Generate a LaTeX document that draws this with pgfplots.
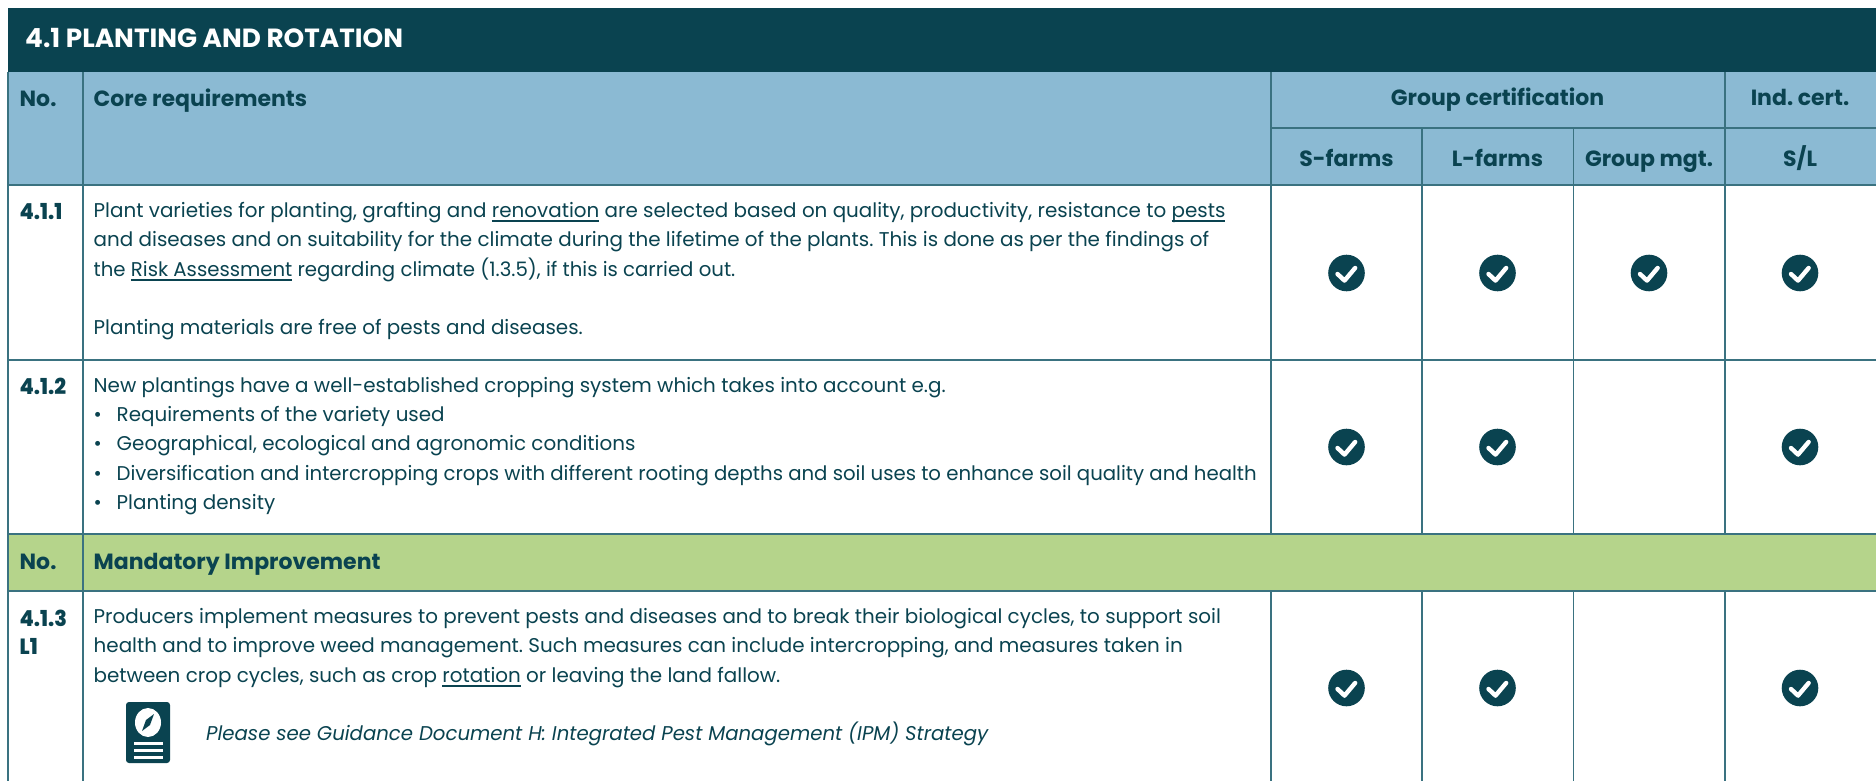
\documentclass[border=0pt]{standalone}
\usepackage{pgfplots}
\pgfplotsset{compat=1.18}
\usepackage{fontspec}
\setmainfont{Poppins}
\IfFontExistsTF{Poppins ExtraBold}{\newfontface\xb{Poppins ExtraBold}}{\newcommand{\xb}{\bfseries}}
\frenchspacing
\definecolor{dark}{HTML}{0A4350}
\definecolor{hblue}{HTML}{8BBAD3}
\definecolor{hgreen}{HTML}{B5D48B}
\definecolor{rule}{HTML}{3A7280}
\newcommand{\ul}[1]{\setbox0\hbox{#1}\rlap{\raisebox{-4.6pt}{\rule{\wd0}{1.2pt}}}\box0 }
\pgfdeclareplotmark{checkdisc}{%
  \pgfsetfillcolor{dark}\pgfpathcircle{\pgfpointorigin}{18.3pt}\pgfusepathqfill
  \pgfsetstrokecolor{white}\pgfsetlinewidth{4.4pt}\pgfsetroundcap\pgfsetroundjoin
  \pgfpathmoveto{\pgfpoint{-9pt}{-1pt}}\pgfpathlineto{\pgfpoint{-2pt}{-7.6pt}}\pgfpathlineto{\pgfpoint{8.6pt}{5pt}}\pgfusepathqstroke
}
\newcommand{\Bd}[3]{\node[anchor=base west,inner sep=0pt,text=dark,font=\fontsize{19.9}{24}\selectfont] at (axis cs:#1,#2) {#3};}
\newcommand{\Bs}[3]{\node[anchor=base west,inner sep=0pt,text=dark,font=\fontsize{19.9}{24}\selectfont] at (axis cs:#1,#2) {\scalebox{.99}[1]{#3}};}
\newcommand{\Hd}[3]{\node[anchor=base west,inner sep=0pt,text=dark,font=\fontsize{22}{24}\bfseries\selectfont] at (axis cs:#1,#2) {#3};}
\newcommand{\Nm}[3]{\node[anchor=base west,inner sep=0pt,text=dark,font=\fontsize{22}{24}\selectfont] at (axis cs:#1,#2) {\scalebox{.94}[1]{\xb #3}};}
\newcommand{\Cn}[3]{\node[anchor=base,inner sep=0pt,text=dark,font=\fontsize{22}{24}\bfseries\selectfont] at (axis cs:#1,#2) {#3};}
\begin{document}
\begin{tikzpicture}
\begin{axis}[scale only axis,width=1876pt,height=781pt,xmin=0,xmax=1876,ymin=0,ymax=781,y dir=reverse,hide axis,clip=true]
% page
\addplot[draw=none,fill=white] coordinates {(0,0)(1876,0)(1876,781)(0,781)} --cycle;
% fills
\addplot[draw=none,fill=dark] coordinates {(8,8)(1876,8)(1876,72)(8,72)} --cycle;
\addplot[draw=none,fill=hblue] coordinates {(8,72)(1876,72)(1876,185)(8,185)} --cycle;
\addplot[draw=none,fill=hgreen] coordinates {(8,534)(1876,534)(1876,591)(8,591)} --cycle;
% rules
\addplot[rule,line width=2pt] coordinates {(8,72)(8,781)};
\addplot[rule,line width=2pt] coordinates {(83,72)(83,781)};
\addplot[rule,line width=2pt] coordinates {(1271,72)(1271,534)};
\addplot[rule,line width=2pt] coordinates {(1271,591)(1271,781)};
\addplot[rule,line width=2pt] coordinates {(1725,72)(1725,534)};
\addplot[rule,line width=2pt] coordinates {(1725,591)(1725,781)};
\addplot[rule,line width=1.8pt] coordinates {(1422,128)(1422,534)};
\addplot[rule,line width=1.8pt] coordinates {(1422,591)(1422,781)};
\addplot[rule,line width=1.8pt] coordinates {(1573.5,128)(1573.5,534)};
\addplot[rule,line width=1.8pt] coordinates {(1573.5,591)(1573.5,781)};
\addplot[rule,line width=2pt] coordinates {(1271,128)(1876,128)};
\addplot[rule,line width=2pt] coordinates {(8,185)(1876,185)};
\addplot[rule,line width=2pt] coordinates {(8,359.5)(1876,359.5)};
\addplot[rule,line width=2pt] coordinates {(8,534)(1876,534)};
\addplot[rule,line width=2pt] coordinates {(8,591)(1876,591)};
% checks
\addplot[only marks,mark=checkdisc,mark size=18pt] coordinates {
(1346.5,273)(1497.5,273)(1649,273)(1800,273)
(1346.5,447)(1497.5,447)(1800,447)
(1346.5,688)(1497.5,688)(1800,688)};
% text
\node[anchor=base west,inner sep=0pt,text=white,font=\fontsize{26.3}{30}\bfseries\selectfont] at (axis cs:25,48) {4.1 PLANTING AND ROTATION};
\Hd{19.5}{106.5}{No.}
\Hd{93.5}{106.5}{Core requirements}
\Cn{1497.5}{106}{Group certification}
\Cn{1800}{106}{Ind. cert.}
\Cn{1346.5}{166}{S-farms}
\Cn{1497.5}{166}{L-farms}
\Cn{1649}{166}{Group mgt.}
\Cn{1800}{166}{S/L}
\Nm{19.5}{219}{4.1.1}
\Nm{19.5}{394}{4.1.2}
\Hd{19.5}{569}{No.}
\Hd{93.5}{569}{Mandatory Improvement}
\Nm{19.5}{626}{4.1.3}
\Nm{19.5}{654}{L1}
\Bd{93.5}{217}{Plant varieties for planting, grafting and \ul{renovation} are selected based on quality, productivity, resistance to \ul{pests}}
\Bd{93.5}{246.5}{and diseases and on suitability for the climate during the lifetime of the plants. This is done as per the findings of}
\Bs{93.5}{276}{the \ul{Risk Assessment} regarding climate (1.3.5), if this is carried out.}
\Bd{93.5}{334.5}{Planting materials are free of pests and diseases.}
\Bd{93.5}{392}{New plantings have a well-established cropping system which takes into account e.g.}
\Bd{93.5}{421}{•}
\Bd{116.5}{421}{Requirements of the variety used}
\Bd{93.5}{450.3}{•}
\Bd{116.5}{450.3}{Geographical, ecological and agronomic conditions}
\Bd{93.5}{480}{•}
\Bs{116.5}{480}{Diversification and intercropping crops with different rooting depths and soil uses to enhance soil quality and health}
\Bd{93.5}{509.3}{•}
\Bd{116.5}{509.3}{Planting density}
\Bd{93.5}{623}{Producers implement measures to prevent pests and diseases and to break their biological cycles, to support soil}
\Bd{93.5}{652.5}{health and to improve weed management. Such measures can include intercropping, and measures taken in}
\Bd{93.5}{682}{between crop cycles, such as crop \ul{rotation} or leaving the land fallow.}
\Bs{206}{740}{\itshape Please see Guidance Document H: Integrated Pest Management (IPM) Strategy}
% icon
\fill[dark,rounded corners=3pt] (axis cs:126,702) rectangle (axis cs:170,763);
\fill[white] (axis cs:148,722.5) ellipse[x radius=13pt,y radius=14.5pt];
\fill[dark] (axis cs:154,714) -- (axis cs:150,725) -- (axis cs:142,731) -- (axis cs:146,720) -- cycle;
\fill[white] (axis cs:134,742) rectangle (axis cs:163,744.5);
\fill[white] (axis cs:134,749) rectangle (axis cs:163,751.5);
\fill[white] (axis cs:134,756) rectangle (axis cs:163,758.5);
\end{axis}
\end{tikzpicture}
\end{document}
